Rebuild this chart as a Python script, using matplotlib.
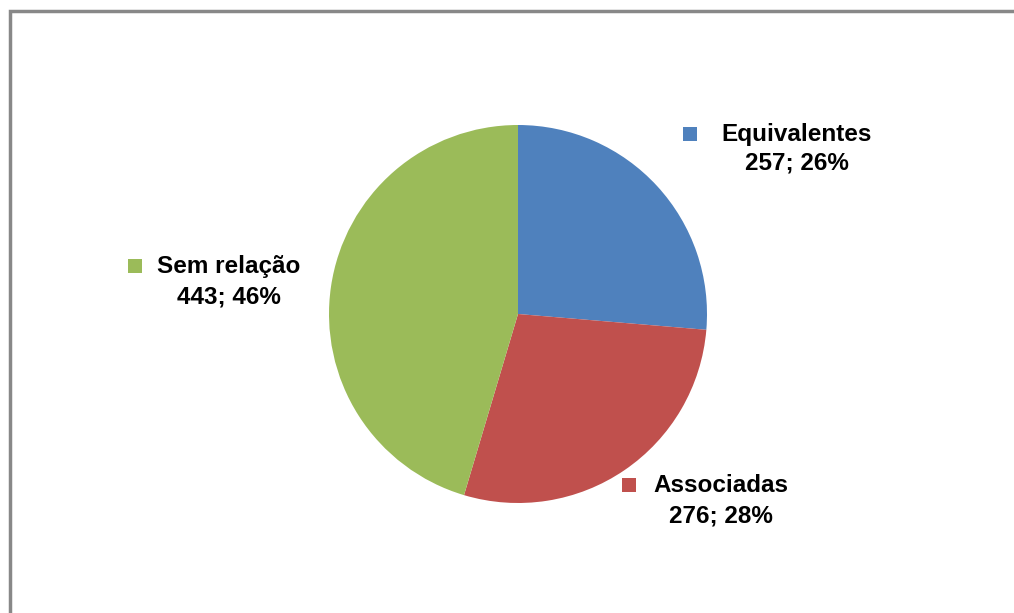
import matplotlib
matplotlib.use("Agg")
import matplotlib.pyplot as plt
from matplotlib.patches import Rectangle

categories = ["Equivalentes", "Associadas", "Sem relação"]
counts = [257, 276, 443]
percents = [26, 28, 46]
colors = ["#4F81BD", "#C0504D", "#9BBB59"]

W, H = 1014, 613
fig = plt.figure(figsize=(W / 100, H / 100), dpi=100)
fig.patch.set_facecolor("white")


def fx(px):
    return px / W


def fy(py):
    return 1 - py / H


# gray chart border (runs off the right and bottom edges)
fig.patches.append(Rectangle((fx(9.5), fy(700)), fx(1100), (700 - 11) / H,
                             transform=fig.transFigure, fill=False,
                             edgecolor="#888888", linewidth=2.5))

# pie
cx, cy, r = 518, 314, 189
ax = fig.add_axes([fx(cx - r), fy(cy + r), 2 * r / W, 2 * r / H])
ax.pie(counts, colors=colors, startangle=90, counterclock=False,
       wedgeprops=dict(linewidth=0))
ax.set_xlim(-1, 1)
ax.set_ylim(-1, 1)
ax.set_aspect("equal")
ax.axis("off")

# labels: (marker x, line1 y, text center x, line2 y)
label_pos = [(690, 134, 797, 163), (629, 485, 721, 516), (135, 266, 229, 297)]
font = dict(family="Liberation Sans", weight="bold", size=17.5)
for cat, n, p, col, (mx, y1, tx, y2) in zip(categories, counts, percents, colors, label_pos):
    fig.patches.append(Rectangle((fx(mx - 7), fy(y1 + 7)), 14 / W, 14 / H,
                                 transform=fig.transFigure, facecolor=col,
                                 edgecolor="none"))
    fig.text(fx(tx), fy(y1), cat, ha="center", va="center", **font)
    fig.text(fx(tx), fy(y2), f"{n}; {p}%", ha="center", va="center", **font)

fig.savefig("out.png", dpi=100)
